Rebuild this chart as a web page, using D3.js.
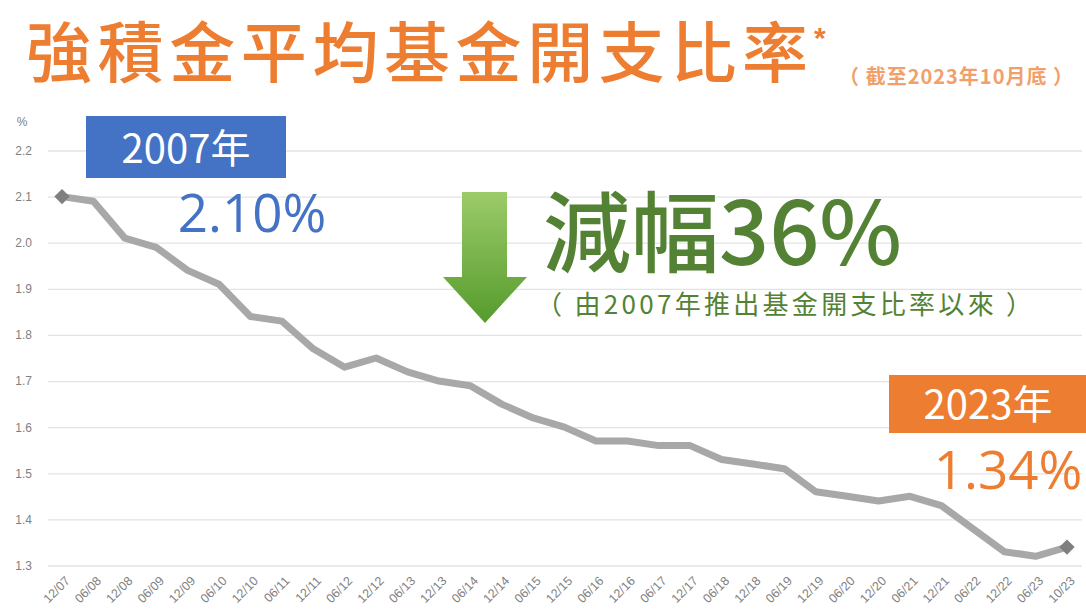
<!DOCTYPE html>
<html>
<head>
<meta charset="utf-8">
<script src="https://d3js.org/d3.v7.min.js"></script>
<style>
  body { margin: 0; background: #fff; }
  svg { display: block; }
  .cjk { font-family: "Noto Sans CJK TC", "Noto Sans", sans-serif; }
</style>
</head>
<body>
<svg width="1086" height="610" class="fer-chart"></svg>
<script>
  // data
  const periods = ["12/07", "06/08", "12/08", "06/09", "12/09", "06/10", "12/10", "06/11",
    "12/11", "06/12", "12/12", "06/13", "12/13", "06/14", "12/14", "06/15", "12/15",
    "06/16", "12/16", "06/17", "12/17", "06/18", "12/18", "06/19", "12/19", "06/20",
    "12/20", "06/21", "12/21", "06/22", "12/22", "06/23", "10/23"];
  const ratios = [2.10, 2.09, 2.01, 1.99, 1.94, 1.91, 1.84, 1.83, 1.77, 1.73, 1.75, 1.72,
    1.70, 1.69, 1.65, 1.62, 1.60, 1.57, 1.57, 1.56, 1.56, 1.53, 1.52, 1.51, 1.46, 1.45,
    1.44, 1.45, 1.43, 1.38, 1.33, 1.32, 1.34];
  const yTicks = [1.3, 1.4, 1.5, 1.6, 1.7, 1.8, 1.9, 2.0, 2.1, 2.2];

  const svg = d3.select(".fer-chart");

  const x = d3.scalePoint().domain(periods).range([62, 1067]);
  const y = d3.scaleLinear().domain([1.3, 2.2]).range([565.5, 150.5]);

  const orange = "#ED7D31";
  const blue = "#4472C4";
  const green = "#548235";
  const numFont = "Open Sans, Noto Sans, sans-serif";

  // title
  svg.append("text")
    .attr("class", "cjk")
    .attr("x", 26).attr("y", 77)
    .style("font-size", "66px").style("font-weight", 500)
    .style("letter-spacing", "5.6px")
    .attr("fill", orange)
    .text("強積金平均基金開支比率");
  svg.append("text")
    .attr("x", 814).attr("y", 48)
    .style("font-family", "Liberation Sans, Arial, sans-serif")
    .style("font-size", "30px").style("font-weight", "bold")
    .attr("fill", orange)
    .text("*");
  svg.append("text")
    .attr("class", "cjk")
    .attr("x", 1074).attr("y", 84)
    .attr("text-anchor", "end")
    .style("font-size", "20px").style("font-weight", "bold")
    .style("letter-spacing", "1px")
    .attr("fill", "#F2A06A")
    .text("（ 截至2023年10月底 ）");

  // y axis + grid
  const yAxis = svg.append("g")
    .attr("transform", "translate(48,0)")
    .call(d3.axisLeft(y).tickValues(yTicks).tickFormat(d3.format(".1f"))
      .tickSize(-1034).tickPadding(16));
  yAxis.select(".domain").remove();
  yAxis.selectAll(".tick line").attr("stroke", "#e3e3e3").attr("stroke-width", 1.3);
  yAxis.selectAll(".tick text")
    .attr("fill", "#7f7f7f")
    .style("font-family", "Liberation Sans, Arial, sans-serif")
    .style("font-size", "12px");
  svg.append("text")
    .attr("x", 22).attr("y", 126)
    .attr("text-anchor", "middle")
    .attr("fill", "#7f7f7f")
    .style("font-family", "Liberation Sans, Arial, sans-serif")
    .style("font-size", "12px")
    .text("%");

  // x axis
  const xAxis = svg.append("g")
    .attr("transform", "translate(0,565.5)")
    .call(d3.axisBottom(x).tickSize(0));
  xAxis.select(".domain").remove();
  xAxis.selectAll(".tick text")
    .attr("fill", "#7f7f7f")
    .style("font-family", "Liberation Sans, Arial, sans-serif")
    .style("font-size", "12.5px")
    .attr("text-anchor", "end")
    .attr("x", 0).attr("y", 0)
    .attr("dx", 0).attr("dy", "0.35em")
    .attr("transform", "translate(5,13) rotate(-45)");

  // line
  const line = d3.line()
    .x((d, i) => x(periods[i]))
    .y(d => y(d));
  svg.append("path")
    .datum(ratios)
    .attr("fill", "none")
    .attr("stroke", "#a8a8a8")
    .attr("stroke-width", 7)
    .attr("stroke-linejoin", "round")
    .attr("d", line);

  // end markers
  const ends = [0, ratios.length - 1];
  svg.selectAll(".marker")
    .data(ends)
    .enter().append("path")
    .attr("class", "marker")
    .attr("d", d3.symbol().type(d3.symbolDiamond2).size(150))
    .attr("transform", i => "translate(" + x(periods[i]) + "," + y(ratios[i]) + ")")
    .attr("fill", "#7f7f7f");

  // 2007 annotation
  svg.append("rect")
    .attr("x", 86).attr("y", 116).attr("width", 200).attr("height", 62)
    .attr("fill", blue);
  svg.append("text")
    .attr("class", "cjk")
    .attr("x", 186).attr("y", 163)
    .attr("text-anchor", "middle")
    .attr("fill", "#fff")
    .style("font-size", "40px")
    .text("2007年");
  svg.append("text")
    .attr("x", 252).attr("y", 232)
    .attr("text-anchor", "middle")
    .attr("fill", blue)
    .style("font-family", numFont)
    .style("font-size", "53px")
    .text(d3.format(".2f")(ratios[0]) + "%");

  // 2023 annotation
  const last = ratios[ratios.length - 1];
  svg.append("rect")
    .attr("x", 889).attr("y", 375).attr("width", 197).attr("height", 58)
    .attr("fill", orange);
  svg.append("text")
    .attr("class", "cjk")
    .attr("x", 988).attr("y", 419)
    .attr("text-anchor", "middle")
    .attr("fill", "#fff")
    .style("font-size", "40px")
    .text("2023年");
  svg.append("text")
    .attr("x", 1008).attr("y", 489)
    .attr("text-anchor", "middle")
    .attr("fill", orange)
    .style("font-family", numFont)
    .style("font-size", "53px")
    .text(d3.format(".2f")(last) + "%");

  // green arrow
  const grad = svg.append("defs").append("linearGradient")
    .attr("id", "arrowGrad").attr("x1", 0).attr("y1", 0).attr("x2", 0).attr("y2", 1);
  grad.append("stop").attr("offset", "0%").attr("stop-color", "#9ccb6a");
  grad.append("stop").attr("offset", "100%").attr("stop-color", "#559b2c");
  svg.append("path")
    .attr("d", "M462,192 L507,192 L507,277 L527,277 L485,323 L443,277 L462,277 Z")
    .attr("fill", "url(#arrowGrad)");

  const drop = Math.round((1 - last / ratios[0]) * 100);
  svg.append("text")
    .attr("class", "cjk")
    .attr("x", 543).attr("y", 265)
    .attr("fill", green)
    .style("font-size", "88px").style("font-weight", 500)
    .text("減幅" + drop + "%");
  svg.append("text")
    .attr("class", "cjk")
    .attr("x", 536).attr("y", 314)
    .attr("fill", green)
    .style("font-size", "26px")
    .style("letter-spacing", "3.3px")
    .text("（ 由2007年推出基金開支比率以來 ）");
</script>
</body>
</html>
